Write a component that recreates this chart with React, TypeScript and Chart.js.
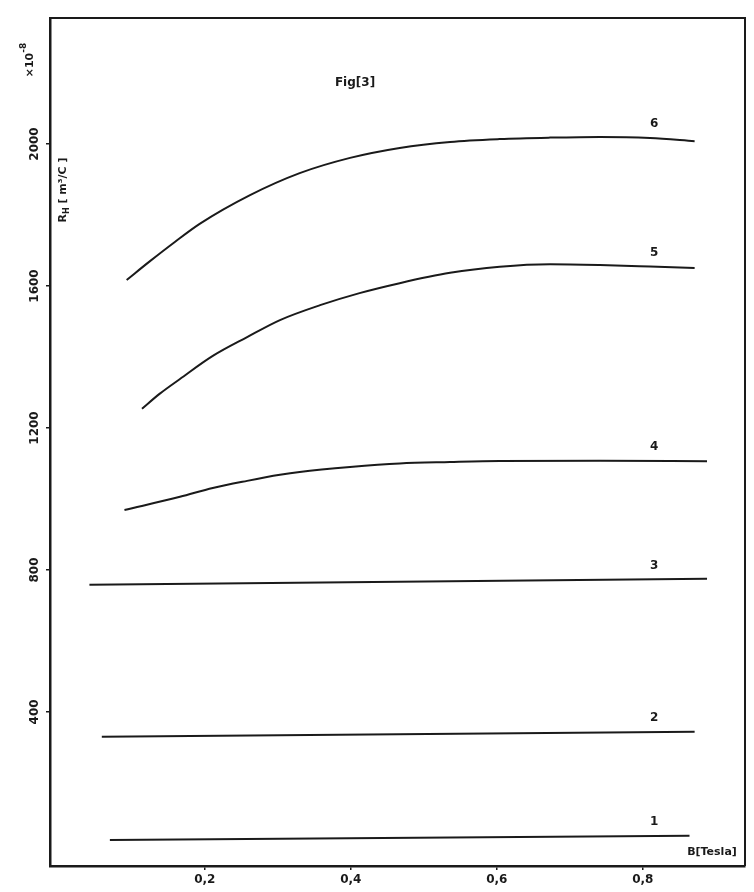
import React, { useEffect, useRef } from "react";
import { Chart, registerables } from "chart.js";

Chart.register(...registerables);

// ---- data ----
const CURVE_NAMES = ["1", "2", "3", "4", "5", "6"];

const B1 = [0.07, 0.864];
const R1 = [39, 51];

const B2 = [0.059, 0.871];
const R2 = [330, 344];

const B3 = [0.042, 0.888];
const R3 = [758, 775];

const B4 = [0.09, 0.166, 0.211, 0.258, 0.303, 0.33, 0.399, 0.467, 0.536, 0.604, 0.741, 0.888];
const R4 = [969, 1006, 1031, 1051, 1068, 1076, 1090, 1100, 1104, 1107, 1108, 1106];

const B5 = [0.114, 0.138, 0.166, 0.211, 0.258, 0.303, 0.358, 0.412, 0.467, 0.536, 0.604, 0.673, 0.741, 0.81, 0.871];
const R5 = [1254, 1296, 1338, 1403, 1456, 1504, 1546, 1580, 1608, 1637, 1654, 1661, 1659, 1655, 1651];

const B6 = [0.093, 0.125, 0.159, 0.193, 0.262, 0.33, 0.399, 0.467, 0.536, 0.604, 0.673, 0.741, 0.81, 0.871];
const R6 = [1617, 1670, 1724, 1775, 1856, 1918, 1961, 1989, 2006, 2014, 2018, 2020, 2017, 2008];

const X_TICKS = [0.2, 0.4, 0.6, 0.8];
const X_TICK_LABELS = ["0,2", "0,4", "0,6", "0,8"];
const Y_TICKS = [400, 800, 1200, 1600, 2000];
const Y_TICK_LABELS = ["400", "800", "1200", "1600", "2000"];

const TITLE = "Fig[3]";
const X_TITLE = "B[Tesla]";
const Y_TITLE_MAIN = "R";
const Y_TITLE_SUB = "H";
const Y_TITLE_REST = " [ m³/C ]";
const Y_FACTOR = "×10";
const Y_FACTOR_EXP = "-8";

const LABEL_B = 0.81;

const BS = [B1, B2, B3, B4, B5, B6];
const RS = [R1, R2, R3, R4, R5, R6];

const INK = "#1a1a1a";

function interp(xs: number[], ys: number[], x: number) {
  if (x <= xs[0]) return ys[0];
  for (let i = 1; i < xs.length; i++) {
    if (x <= xs[i]) {
      const t = (x - xs[i - 1]) / (xs[i] - xs[i - 1]);
      return ys[i - 1] + t * (ys[i] - ys[i - 1]);
    }
  }
  return ys[ys.length - 1];
}

const textPlugin = {
  id: "figText",
  afterDraw(chart: any) {
    const ctx = chart.ctx as CanvasRenderingContext2D;
    const { chartArea } = chart;
    const xs = chart.scales.x;
    const ys = chart.scales.y;
    ctx.save();
    // frame top / right
    ctx.strokeStyle = INK;
    ctx.lineWidth = 2;
    ctx.beginPath();
    ctx.moveTo(chartArea.left, chartArea.top);
    ctx.lineTo(chartArea.right, chartArea.top);
    ctx.lineTo(chartArea.right, chartArea.bottom);
    ctx.stroke();

    ctx.fillStyle = INK;
    // y tick labels (rotated)
    ctx.font = "bold 12px 'DejaVu Sans'";
    ctx.textAlign = "center";
    ctx.textBaseline = "middle";
    Y_TICKS.forEach((v, i) => {
      const py = ys.getPixelForValue(v);
      ctx.save();
      ctx.translate(chartArea.left - 15, py);
      ctx.rotate(-Math.PI / 2);
      ctx.fillText(Y_TICK_LABELS[i], 0, 0);
      ctx.restore();
    });

    // x10^-8
    ctx.save();
    ctx.translate(28, 60);
    ctx.rotate(-Math.PI / 2);
    ctx.font = "bold 11px 'DejaVu Sans'";
    ctx.textAlign = "left";
    const w1 = ctx.measureText(Y_FACTOR).width;
    ctx.font = "bold 9px 'DejaVu Sans'";
    const w2 = ctx.measureText(Y_FACTOR_EXP).width;
    const start = -(w1 + w2) / 2;
    ctx.font = "bold 11px 'DejaVu Sans'";
    ctx.fillText(Y_FACTOR, start, 2);
    ctx.font = "bold 9px 'DejaVu Sans'";
    ctx.fillText(Y_FACTOR_EXP, start + w1, -4);
    ctx.restore();

    // y title
    ctx.save();
    ctx.translate(63, 190);
    ctx.rotate(-Math.PI / 2);
    ctx.textAlign = "left";
    ctx.font = "bold 11px 'DejaVu Sans'";
    const a = ctx.measureText(Y_TITLE_MAIN).width;
    ctx.font = "bold 8px 'DejaVu Sans'";
    const b = ctx.measureText(Y_TITLE_SUB).width;
    ctx.font = "bold 11px 'DejaVu Sans'";
    const c = ctx.measureText(Y_TITLE_REST).width;
    const s0 = -(a + b + c) / 2;
    ctx.fillText(Y_TITLE_MAIN, s0, 0);
    ctx.font = "bold 8px 'DejaVu Sans'";
    ctx.fillText(Y_TITLE_SUB, s0 + a, 4);
    ctx.font = "bold 11px 'DejaVu Sans'";
    ctx.fillText(Y_TITLE_REST, s0 + a + b, 0);
    ctx.restore();

    // title
    ctx.textAlign = "center";
    ctx.textBaseline = "middle";
    ctx.font = "bold 12px 'DejaVu Sans'";
    ctx.fillText(TITLE, 355, 83);

    // x title
    ctx.font = "bold 11px 'DejaVu Sans'";
    ctx.fillText(X_TITLE, 712, 852);

    // curve labels
    ctx.font = "bold 12px 'DejaVu Sans'";
    CURVE_NAMES.forEach((n, i) => {
      const v = interp(BS[i], RS[i], LABEL_B);
      const px = xs.getPixelForValue(LABEL_B);
      const py = ys.getPixelForValue(v) - 14;
      ctx.fillText(n, px + 4, py);
    });
    ctx.restore();
  },
};

export default function App() {
  const ref = useRef<HTMLCanvasElement | null>(null);
  useEffect(() => {
    document.body.style.margin = "0";
    document.body.style.background = "#ffffff";
    if (!ref.current) return;
    const datasets = BS.map((bx, i) => ({
      label: CURVE_NAMES[i],
      data: bx.map((x, j) => ({ x, y: RS[i][j] })),
      borderColor: INK,
      borderWidth: 2,
      pointRadius: 0,
      fill: false,
      cubicInterpolationMode: "monotone" as const,
      tension: 0.4,
    }));
    const chart = new Chart(ref.current, {
      type: "line",
      data: { datasets },
      plugins: [textPlugin],
      options: {
        animation: false,
        responsive: false,
        maintainAspectRatio: false,
        layout: { padding: { top: 18, right: 9, left: 0, bottom: 0 } },
        plugins: { legend: { display: false }, tooltip: { enabled: false }, title: { display: false } },
        scales: {
          x: {
            type: "linear",
            min: -0.012,
            max: 0.94,
            afterBuildTicks: (s: any) => {
              s.ticks = X_TICKS.map((v) => ({ value: v }));
            },
            afterFit: (s: any) => {
              s.height = 26;
            },
            ticks: {
              color: INK,
              font: { family: "DejaVu Sans", size: 12, weight: "bold" },
              padding: 3,
              maxRotation: 0,
              callback: (v: any) => {
                const i = X_TICKS.indexOf(Number(v));
                return i >= 0 ? X_TICK_LABELS[i] : "";
              },
            },
            grid: { display: true, drawOnChartArea: false, drawTicks: true, tickLength: 4, color: INK, lineWidth: 1.5 },
            border: { display: true, color: INK, width: 2.5 },
          },
          y: {
            type: "linear",
            min: -34,
            max: 2355,
            afterBuildTicks: (s: any) => {
              s.ticks = Y_TICKS.map((v) => ({ value: v }));
            },
            afterFit: (s: any) => {
              s.width = 50;
            },
            ticks: { display: false },
            grid: { display: true, drawOnChartArea: false, drawTicks: true, tickLength: 4, color: INK, lineWidth: 1.5 },
            border: { display: true, color: INK, width: 2.5 },
          },
        },
      },
    });
    return () => chart.destroy();
  }, []);
  return (
    <div style={{ width: 754, height: 892, background: "#fff" }}>
      <canvas ref={ref} width={754} height={892} style={{ display: "block" }} />
    </div>
  );
}
